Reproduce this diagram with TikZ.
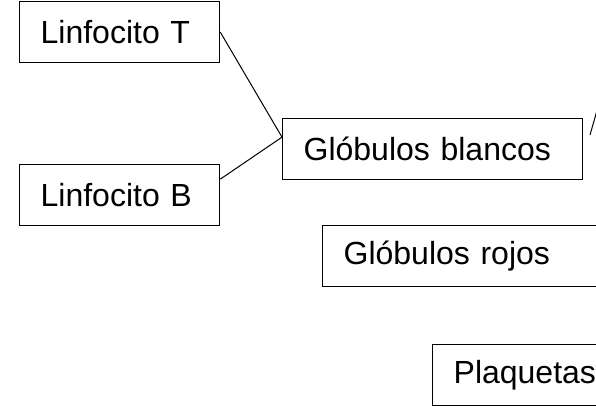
\documentclass[tikz,border=0pt]{standalone}
\usepackage{fontspec}
\setmainfont{Liberation Sans}
\begin{document}
\begin{tikzpicture}[x=1pt,y=1pt,
  cell/.style={draw, line width=1.3pt, anchor=north west, minimum height=61pt,
    inner xsep=21pt, inner ysep=0pt, align=left, font=\fontsize{32}{37}\selectfont},
  link/.style={line width=1pt}]
\useasboundingbox (0,0) rectangle (596,-406);
\clip (0,0) rectangle (596,-406);
\node[cell, text width=158pt] (lt) at (19,-1) {Linfocito T};
\node[cell, text width=158pt] (lb) at (19,-164) {Linfocito B};
\node[cell, text width=258pt] (gb) at (282,-118) {Glóbulos blancos};
\node[cell, text width=300pt] (gr) at (322,-225) {Glóbulos rojos};
\node[cell, text width=200pt] (pl) at (432,-344) {Plaquetas};
\draw[link] (lt.east) -- ([yshift=12pt]gb.west);
\draw[link] ([yshift=16pt]lb.east) -- ([yshift=12pt]gb.west);
\coordinate (s1) at (590,-135);
\coordinate (s2) at (600,-100);
\draw[link] (s1) -- (s2);
\end{tikzpicture}
\end{document}
